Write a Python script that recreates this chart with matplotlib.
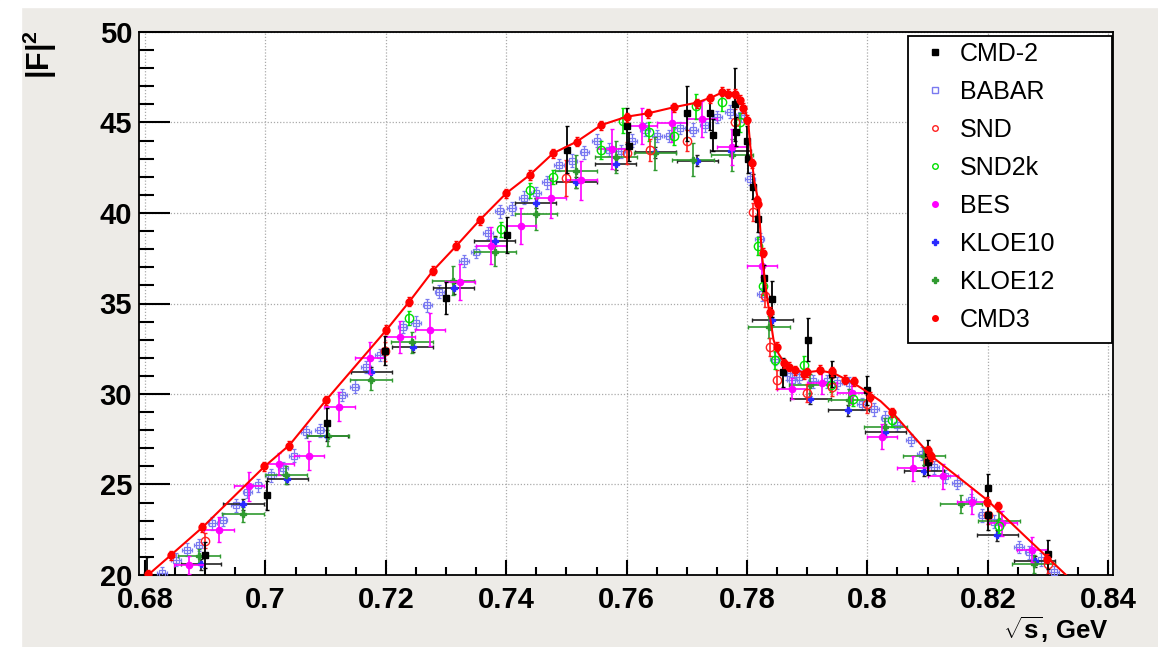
import matplotlib
matplotlib.use('Agg')
import matplotlib.pyplot as plt
from matplotlib.lines import Line2D
from matplotlib.patches import Rectangle
from matplotlib.ticker import MultipleLocator, FuncFormatter

plt.rcParams['font.family'] = ['Liberation Sans', 'DejaVu Sans']
plt.rcParams['mathtext.fontset'] = 'custom'
plt.rcParams['mathtext.rm'] = 'Liberation Sans:bold'
plt.rcParams['mathtext.it'] = 'Liberation Sans:bold'
plt.rcParams['mathtext.bf'] = 'Liberation Sans:bold'

# ---- data ----
fit_x = [0.6805, 0.6843, 0.6896, 0.6998, 0.7040, 0.7101, 0.7201, 0.7239, 0.7278, 0.7317,
         0.7356, 0.7400, 0.7439, 0.7478, 0.7517, 0.7558, 0.7600, 0.7636, 0.7678, 0.7717,
         0.7744, 0.7758, 0.7778, 0.7789, 0.7797, 0.7802, 0.7805, 0.7808, 0.7812, 0.7819,
         0.7825, 0.7833, 0.7839, 0.7844, 0.7852, 0.7866, 0.7894, 0.7922, 0.7944, 0.7977,
         0.7999, 0.8022, 0.8041, 0.8105, 0.8155, 0.8199, 0.8260, 0.8330]
fit_y = [20.0, 21.1, 22.65, 25.98, 27.18, 29.67, 33.54, 35.10, 36.80, 38.18,
         39.61, 41.09, 42.10, 43.30, 43.94, 44.86, 45.32, 45.51, 45.84, 46.10,
         46.43, 46.65, 46.61, 46.24, 45.69, 45.04, 43.85, 42.9, 41.8, 40.62,
         37.6, 35.4, 34.1, 33.0, 32.25, 31.5, 31.18, 31.29, 31.15, 30.6,
         30.13, 29.6, 29.0, 26.6, 25.3, 24.14, 22.2, 20.0]

cmd3_x = [0.6805, 0.6843, 0.6895, 0.6998, 0.7040, 0.7101, 0.7201, 0.7239, 0.7278, 0.7317,
          0.7356, 0.7400, 0.7439, 0.7478, 0.7517, 0.7558, 0.7600, 0.7636, 0.7678, 0.7717,
          0.7739, 0.7758, 0.7769, 0.7780, 0.7789, 0.7794, 0.7800, 0.7808, 0.7816, 0.7819,
          0.7827, 0.7839, 0.7850, 0.7861, 0.7869, 0.7880, 0.7894, 0.7900, 0.7922, 0.7941,
          0.7963, 0.7977, 0.8005, 0.8041, 0.8100, 0.8105, 0.8199, 0.8217, 0.8299]
cmd3_y = [20.05, 21.1, 22.65, 26.0, 27.15, 29.65, 33.55, 35.1, 36.8, 38.2,
          39.6, 41.1, 42.1, 43.3, 43.95, 44.85, 45.3, 45.5, 45.85, 46.05,
          46.35, 46.7, 46.6, 46.6, 46.25, 45.8, 45.15, 42.75, 40.7, 40.5,
          37.8, 34.55, 32.6, 31.7, 31.5, 31.3, 31.1, 31.2, 31.35, 31.25,
          30.8, 30.7, 29.85, 29.0, 26.9, 26.55, 24.05, 23.8, 20.9]

cmd2_x = [0.6803, 0.6900, 0.7003, 0.7103, 0.7199, 0.7300, 0.7401, 0.7501, 0.7600, 0.7604,
          0.7700, 0.7739, 0.7744, 0.7780, 0.7782, 0.7800, 0.7801, 0.7810, 0.7818, 0.7829,
          0.7841, 0.7860, 0.7901, 0.7941, 0.7999, 0.8100, 0.8101, 0.8200, 0.8201, 0.8300]
cmd2_y = [20.0, 21.1, 24.4, 28.4, 32.4, 35.3, 38.8, 43.5, 44.8, 43.7,
          45.5, 45.5, 44.3, 46.0, 44.5, 44.0, 43.0, 41.45, 39.65, 36.4,
          35.25, 31.2, 33.0, 31.1, 30.2, 26.75, 26.25, 24.8, 23.3, 21.15]
cmd2_err = [1.0, 0.7, 0.8, 0.8, 0.8, 0.9, 1.0, 1.3, 1.0, 0.8,
            1.5, 0.9, 0.9, 2.0, 0.8, 0.8, 0.8, 0.7, 0.7, 0.7,
            1.0, 0.8, 1.2, 0.7, 0.8, 0.7, 0.7, 0.8, 0.8, 0.8]

babar_x = [0.6828, 0.6851, 0.6870, 0.6890, 0.6912, 0.6929, 0.6951, 0.6970, 0.6987, 0.7009,
           0.7029, 0.7048, 0.7067, 0.7090, 0.7128, 0.7148, 0.7167, 0.7190, 0.7228, 0.7250,
           0.7269, 0.7289, 0.7330, 0.7349, 0.7370, 0.7389, 0.7409, 0.7430, 0.7449, 0.7468,
           0.7488, 0.7509, 0.7530, 0.7550, 0.7570, 0.7590, 0.7609, 0.7631, 0.7651, 0.7670,
           0.7689, 0.7711, 0.7730, 0.7750, 0.7771, 0.7790, 0.7805, 0.7821, 0.7825, 0.7847,
           0.7866, 0.7875, 0.7886, 0.7910, 0.7933, 0.7949, 0.7969, 0.7991, 0.8011, 0.8030,
           0.8050, 0.8072, 0.8090, 0.8111, 0.8129, 0.8149, 0.8172, 0.8191, 0.8210, 0.8252,
           0.8269, 0.8288, 0.8310]
babar_y = [20.1, 20.85, 21.4, 21.65, 22.85, 23.05, 23.85, 24.6, 24.95, 25.5,
           25.9, 26.6, 27.9, 28.0, 29.95, 30.4, 31.5, 32.15, 33.7, 33.95,
           34.9, 35.65, 37.35, 37.85, 38.9, 40.1, 40.25, 40.85, 41.1, 41.7,
           42.65, 42.9, 43.35, 44.0, 43.5, 43.4, 44.0, 44.6, 44.25, 44.25,
           44.7, 44.6, 44.85, 45.3, 45.6, 45.4, 41.9, 38.55, 35.5, 31.95,
           31.15, 30.8, 30.95, 30.7, 30.7, 30.6, 30.6, 29.45, 29.15, 28.7,
           28.3, 27.45, 26.7, 25.95, 25.45, 25.1, 24.15, 23.3, 22.95, 21.55,
           21.25, 20.85, 20.15]

snd_x = [0.6899, 0.7199, 0.7499, 0.7600, 0.7639, 0.7700, 0.7780, 0.7810, 0.7830, 0.7839,
         0.7850, 0.7900, 0.7941, 0.7999, 0.8100, 0.8200, 0.8300]
snd_y = [21.9, 32.35, 41.95, 43.3, 43.5, 44.0, 45.05, 40.05, 35.4, 32.6,
         30.8, 30.05, 30.4, 29.45, 26.3, 23.3, 20.6]
snd_err = [0.4, 0.5, 1.0, 0.6, 0.6, 0.6, 0.7, 0.5, 0.6, 0.5,
           0.5, 0.5, 0.5, 0.5, 0.5, 0.5, 0.5]

snd2k_x = [0.7239, 0.7392, 0.7440, 0.7477, 0.7557, 0.7594, 0.7637, 0.7678, 0.7715, 0.7758,
           0.7788, 0.7819, 0.7826, 0.7847, 0.7894, 0.7940, 0.7976, 0.8041, 0.8219]
snd2k_y = [34.2, 39.1, 41.25, 42.0, 43.5, 45.1, 44.5, 44.25, 45.9, 46.15,
           45.0, 38.2, 35.95, 31.9, 31.6, 30.5, 29.75, 28.55, 22.7]
snd2k_err = [0.4, 0.4, 0.4, 0.4, 0.5, 0.7, 0.5, 0.5, 0.7, 0.5,
             0.5, 0.5, 0.5, 0.5, 0.5, 0.4, 0.4, 0.4, 0.4]

bes_x = [0.6873, 0.6923, 0.6973, 0.7023, 0.7073, 0.7123, 0.7173, 0.7224, 0.7274, 0.7323,
         0.7374, 0.7425, 0.7475, 0.7525, 0.7575, 0.7625, 0.7675, 0.7725, 0.7775, 0.7825,
         0.7875, 0.7925, 0.7975, 0.8025, 0.8075, 0.8125, 0.8174, 0.8224, 0.8274]
bes_y = [20.55, 22.5, 24.9, 26.15, 26.6, 29.3, 32.0, 33.15, 33.55, 36.2,
         38.2, 39.3, 40.85, 41.8, 43.55, 44.8, 44.95, 45.2, 43.65, 37.05,
         30.3, 30.6, 30.05, 27.65, 25.9, 25.45, 24.05, 22.85, 21.4]
bes_err = [0.5, 0.7, 0.8, 0.6, 0.8, 0.8, 0.9, 0.9, 0.9, 1.0,
           1.0, 1.0, 1.1, 1.1, 1.1, 1.0, 1.0, 1.0, 1.0, 0.6,
           0.6, 0.6, 0.6, 0.7, 0.7, 0.7, 0.7, 0.7, 0.7]

kloe10_x = [0.6893, 0.6963, 0.7036, 0.7103, 0.7176, 0.7245, 0.7313, 0.7381, 0.7449, 0.7516,
            0.7582, 0.7648, 0.7717, 0.7773, 0.7842, 0.7905, 0.7968, 0.8030, 0.8094, 0.8216,
            0.8278]
kloe10_y = [20.6, 23.9, 25.3, 27.7, 31.2, 32.6, 35.85, 38.45, 40.55, 41.7,
            42.7, 43.35, 42.9, 43.45, 34.1, 29.75, 29.1, 27.9, 25.75, 22.2,
            20.75]

kloe12_x = [0.6890, 0.6963, 0.7034, 0.7104, 0.7176, 0.7244, 0.7312, 0.7381, 0.7449, 0.7516,
            0.7582, 0.7647, 0.7711, 0.7775, 0.7837, 0.7905, 0.7969, 0.8030, 0.8094, 0.8155,
            0.8219, 0.8276]
kloe12_y = [21.05, 23.35, 25.5, 27.7, 30.8, 32.85, 36.25, 37.85, 39.95, 42.3,
            43.1, 43.3, 42.95, 43.2, 33.7, 30.5, 29.65, 28.2, 26.55, 23.9,
            23.0, 20.6]
kloe12_err = [0.4, 0.4, 0.5, 0.6, 0.6, 0.6, 0.8, 0.8, 0.9, 0.9,
              0.9, 0.9, 0.9, 0.9, 0.6, 0.6, 0.6, 0.5, 0.5, 0.5,
              0.5, 0.5]

labels = ['CMD-2', 'BABAR', 'SND', 'SND2k', 'BES', 'KLOE10', 'KLOE12', 'CMD3']

# ---- figure ----
W, H = 1158, 647
fig = plt.figure(figsize=(W / 100, H / 100), dpi=100)
fig.patch.set_facecolor('#edebe7')
fig.patches.append(Rectangle((0, 0), 21 / W, 1, transform=fig.transFigure,
                             color='white', zorder=0))
fig.patches.append(Rectangle((0, 1 - 7 / H), 1, 7 / H, transform=fig.transFigure,
                             color='white', zorder=0))

ax = fig.add_axes([139 / W, 1 - 575 / H, (1113 - 139) / W, (575 - 32) / H])
ax.set_facecolor('white')

ax.errorbar(babar_x, babar_y, xerr=0.0008, yerr=0.35, fmt='s', ms=5, mfc='none',
            mec='#7a7af0', ecolor='#7a7af0', elinewidth=0.9, capsize=1.5,
            mew=0.9, zorder=3)
ax.errorbar(kloe10_x, kloe10_y, xerr=0.0034, yerr=0.3, fmt='P', ms=5, color='#2a2aff',
            ecolor='#222222', elinewidth=1.2, capsize=1.5, zorder=4)
ax.errorbar(kloe12_x, kloe12_y, xerr=0.0035, yerr=kloe12_err, fmt='P', ms=5,
            color='#2f9a2f', ecolor='#2f9a2f', elinewidth=1.2, capsize=1.5, zorder=4)
ax.errorbar(bes_x, bes_y, xerr=0.0025, yerr=bes_err, fmt='o', ms=4.5, color='#ff00ff',
            ecolor='#ff00ff', elinewidth=1.2, capsize=1.5, zorder=5)
ax.errorbar(snd2k_x, snd2k_y, yerr=snd2k_err, fmt='o', ms=6, mfc='none', mec='#00e000',
            ecolor='#00e000', elinewidth=1.2, capsize=1.5, mew=1.0, zorder=5)
ax.errorbar(snd_x, snd_y, yerr=snd_err, fmt='o', ms=6, mfc='none', mec='#ff2020',
            ecolor='#ff2020', elinewidth=1.2, capsize=1.5, mew=1.0, zorder=5)
ax.errorbar(cmd2_x, cmd2_y, yerr=cmd2_err, fmt='s', ms=5, color='black',
            ecolor='black', elinewidth=1.3, capsize=1.5, zorder=6)
ax.errorbar(cmd3_x, cmd3_y, yerr=0.25, fmt='o', ms=5, color='#ff0000',
            ecolor='#ff0000', elinewidth=1.2, capsize=1.5, zorder=7)
ax.plot(fit_x, fit_y, color='#ff0000', lw=1.5, zorder=8)

ax.set_xlim(0.679, 0.8408)
ax.set_ylim(20, 50)
ax.xaxis.set_major_locator(MultipleLocator(0.02))
ax.xaxis.set_minor_locator(MultipleLocator(0.005))
ax.yaxis.set_major_locator(MultipleLocator(5))
ax.yaxis.set_minor_locator(MultipleLocator(1))
ax.xaxis.set_major_formatter(FuncFormatter(lambda v, p: '%g' % round(v, 3)))
ax.grid(True, which='major', color='#aaaaaa', ls=(0, (1, 1.5)), lw=0.9)
ax.tick_params(axis='both', which='both', direction='in', top=False, right=False,
               width=1.5, color='black')
ax.tick_params(axis='y', which='major', length=22, labelsize=21, pad=5)
ax.tick_params(axis='y', which='minor', length=11)
ax.tick_params(axis='x', which='major', length=11, labelsize=21, pad=8)
ax.tick_params(axis='x', which='minor', length=6)
for lab in ax.get_xticklabels() + ax.get_yticklabels():
    lab.set_fontweight('bold')
for sp in ax.spines.values():
    sp.set_linewidth(1.3)

fig.text(40 / W, 1 - 30 / H, r'$|F|^2$', rotation=90, ha='center', va='top',
         fontsize=22)
fig.text(1109 / W, 1 - 639 / H, r'$\sqrt{s}$, GeV', ha='right', va='baseline',
         fontsize=18.5, fontweight='bold')

# legend: ROOT-style box with fixed size
fig.patches.append(Rectangle((908 / W, 1 - 343 / H), (1112 - 908) / W, (343 - 36) / H,
                             transform=fig.transFigure, facecolor='white',
                             edgecolor='black', lw=1.3, zorder=20))
handles = [
    Line2D([], [], ls='none', marker='s', ms=4, color='black'),
    Line2D([], [], ls='none', marker='s', ms=4, mfc='none', mec='#7a7af0'),
    Line2D([], [], ls='none', marker='o', ms=4, mfc='none', mec='#ff2020'),
    Line2D([], [], ls='none', marker='o', ms=4, mfc='none', mec='#00e000'),
    Line2D([], [], ls='none', marker='o', ms=4, color='#ff00ff'),
    Line2D([], [], ls='none', marker='P', ms=5, color='#2a2aff'),
    Line2D([], [], ls='none', marker='P', ms=5, color='#2f9a2f'),
    Line2D([], [], ls='none', marker='o', ms=4, color='#ff0000'),
]
leg = fig.legend(handles, labels, loc='upper left',
                 bbox_to_anchor=(922 / W, 1 - 42 / H),
                 fontsize=18, frameon=False, borderaxespad=0, borderpad=0,
                 labelspacing=0.56, handletextpad=0.5, handlelength=1.0)
leg.set_zorder(21)

fig.savefig('out.png', dpi=100, facecolor=fig.get_facecolor())
